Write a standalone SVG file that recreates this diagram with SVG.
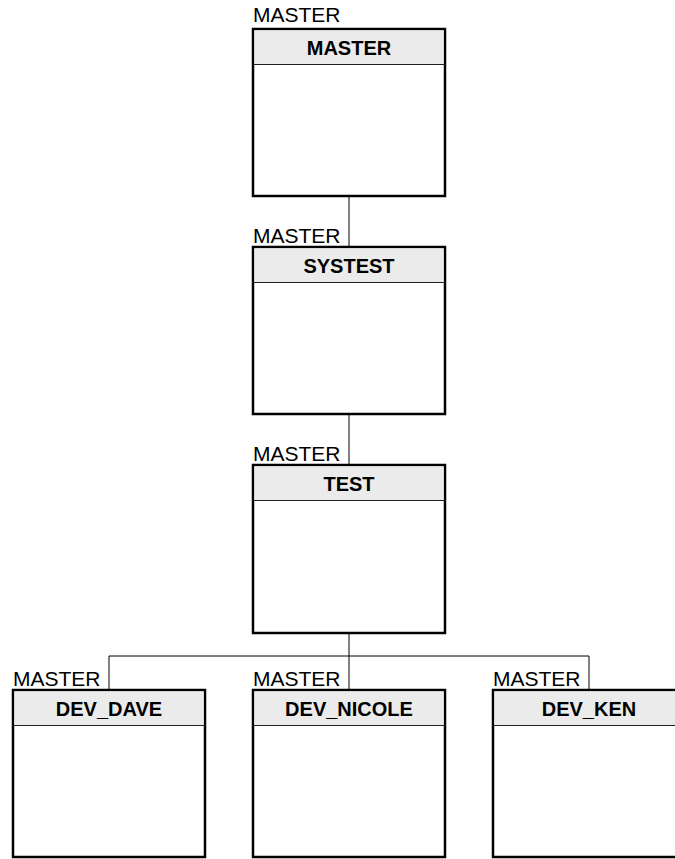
<svg xmlns="http://www.w3.org/2000/svg" width="675" height="859" viewBox="0 0 675 859">
<style>
.box{fill:#ffffff;stroke:#000000;stroke-width:2.5}
.hdr{fill:#ebebeb;stroke:none}
.sep{stroke:#222222;stroke-width:1}
.title{font-family:"Liberation Sans",Arial,sans-serif;font-size:20px;font-weight:bold;text-anchor:middle;fill:#000}
.lbl{font-family:"Liberation Sans",Arial,sans-serif;font-size:21px;fill:#000}
.conn{stroke:#000;stroke-width:1;fill:none}
</style>
<rect width="675" height="859" fill="#ffffff"/>
<g id="connectors">
<line class="conn" x1="349" y1="196" x2="349" y2="247"/>
<line class="conn" x1="349" y1="414" x2="349" y2="465"/>
<line class="conn" x1="349" y1="633" x2="349" y2="690"/>
<line class="conn" x1="109" y1="656" x2="589" y2="656"/>
<line class="conn" x1="109" y1="656" x2="109" y2="690"/>
<line class="conn" x1="589" y1="656" x2="589" y2="690"/>
</g>
<g id="node-master">
<text class="lbl" x="253" y="22">MASTER</text>
<rect class="box" x="253" y="29" width="192" height="167"/>
<rect class="hdr" x="254.5" y="30.5" width="189" height="33.5"/>
<line class="sep" x1="253" y1="64.5" x2="445" y2="64.5"/>
<text class="title" x="349" y="55">MASTER</text>
</g>
<g id="node-systest">
<text class="lbl" x="253" y="243">MASTER</text>
<rect class="box" x="253" y="247" width="192" height="167"/>
<rect class="hdr" x="254.5" y="248.5" width="189" height="33.5"/>
<line class="sep" x1="253" y1="282.5" x2="445" y2="282.5"/>
<text class="title" x="349" y="273">SYSTEST</text>
</g>
<g id="node-test">
<text class="lbl" x="253" y="461">MASTER</text>
<rect class="box" x="253" y="465" width="192" height="168"/>
<rect class="hdr" x="254.5" y="466.5" width="189" height="33.5"/>
<line class="sep" x1="253" y1="500.5" x2="445" y2="500.5"/>
<text class="title" x="349" y="491">TEST</text>
</g>
<g id="node-dev-dave">
<text class="lbl" x="13" y="686">MASTER</text>
<rect class="box" x="13" y="690" width="192" height="167"/>
<rect class="hdr" x="14.5" y="691.5" width="189" height="33.5"/>
<line class="sep" x1="13" y1="725.5" x2="205" y2="725.5"/>
<text class="title" x="109" y="716">DEV_DAVE</text>
</g>
<g id="node-dev-nicole">
<text class="lbl" x="253" y="686">MASTER</text>
<rect class="box" x="253" y="690" width="192" height="167"/>
<rect class="hdr" x="254.5" y="691.5" width="189" height="33.5"/>
<line class="sep" x1="253" y1="725.5" x2="445" y2="725.5"/>
<text class="title" x="349" y="716">DEV_NICOLE</text>
</g>
<g id="node-dev-ken">
<text class="lbl" x="493" y="686">MASTER</text>
<rect class="box" x="493" y="690" width="192" height="167"/>
<rect class="hdr" x="494.5" y="691.5" width="189" height="33.5"/>
<line class="sep" x1="493" y1="725.5" x2="685" y2="725.5"/>
<text class="title" x="589" y="716">DEV_KEN</text>
</g>
</svg>
